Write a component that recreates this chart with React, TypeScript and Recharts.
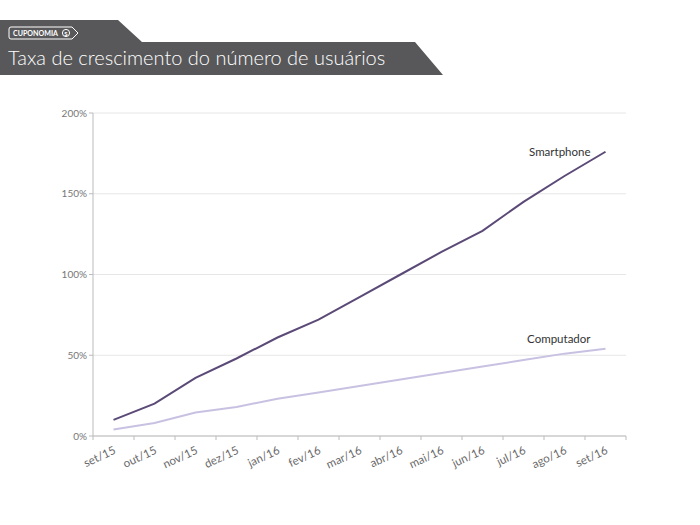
import { LineChart, Line, XAxis, YAxis, CartesianGrid } from 'recharts'

const months = ['set/15', 'out/15', 'nov/15', 'dez/15', 'jan/16', 'fev/16', 'mar/16', 'abr/16', 'mai/16', 'jun/16', 'jul/16', 'ago/16', 'set/16']
const smartphone = [10, 20, 36, 48, 61, 72, 86, 100, 114, 127, 145, 161, 176]
const computador = [4, 8, 14.5, 18, 23, 27, 31, 35, 39, 43, 47, 51, 54]
const yTicks = [0, 50, 100, 150, 200]

const data = months.map((m, i) => ({ month: m, smartphone: smartphone[i], computador: computador[i] }))

const FONT = 'Lato, "Open Sans", sans-serif'
const BAND = 41

function MonthTick(props: any) {
  const { x, y, payload, index } = props
  const last = index === months.length - 1
  return (
    <g>
      <line x1={x - BAND / 2} y1={y - 8} x2={x - BAND / 2} y2={y - 4} stroke="#bbb" />
      {last && <line x1={x + BAND / 2} y1={y - 8} x2={x + BAND / 2} y2={y - 4} stroke="#bbb" />}
      <text
        x={x + 3}
        y={y + 9}
        textAnchor="end"
        fill="#6a6a6a"
        fontSize={11.5}
        fontFamily={FONT}
        transform={`rotate(-25, ${x + 3}, ${y + 9})`}
      >
        {payload.value}
      </text>
    </g>
  )
}

function PercentTick(props: any) {
  const { x, y, payload } = props
  return (
    <text x={x} y={y + 3.5} textAnchor="end" fill="#777" fontSize={10} fontFamily={FONT}>
      {`${payload.value}%`}
    </text>
  )
}

function endLabel(name: string, dy: number) {
  return (props: any) => {
    const { x, y, index } = props
    if (index !== months.length - 1) return null
    return (
      <text x={x - 15} y={y + dy} textAnchor="end" fill="#333" fontSize={11.5} fontFamily={FONT}>
        {name}
      </text>
    )
  }
}

export default function App() {
  return (
    <div style={{ position: 'absolute', left: 0, top: 0, width: 700, height: 525, background: '#fff' }}>
      <svg width={700} height={80} style={{ position: 'absolute', left: 0, top: 0 }}>
        <polygon points="0,20 118,20 142,42 415,42 443,75 0,75" fill="#58585a" />
        <path d="M11,27 H72 L78,33 L72,39 H11 Q9,39 9,37 V29 Q9,27 11,27 Z" fill="none" stroke="#fff" strokeWidth={1} />
        <text x={13} y={36} fill="#fff" fontSize={7} fontWeight={700} fontFamily={FONT} textLength={45} lengthAdjust="spacingAndGlyphs">
          CUPONOMIA
        </text>
        <circle cx={66} cy={33} r={3.6} fill="none" stroke="#fff" strokeWidth={1} />
        <text x={66} y={35.5} textAnchor="middle" fill="#fff" fontSize={6} fontWeight={700} fontFamily={FONT}>
          S
        </text>
        <text x={8} y={65} fill="#fff" fontSize={20} fontWeight={300} fontFamily={FONT}>
          Taxa de crescimento do número de usuários
        </text>
      </svg>
      <LineChart
        width={700}
        height={525}
        data={data}
        margin={{ top: 113, right: 74, left: 43, bottom: 49 }}
      >
        <CartesianGrid vertical={false} stroke="#e6e6e6" />
        <XAxis
          dataKey="month"
          scale="band"
          stroke="#bbb"
          tickLine={false}
          interval={0}
          height={40}
          tick={<MonthTick />}
        />
        <YAxis
          domain={[0, 200]}
          ticks={yTicks}
          width={50}
          stroke="#bbb"
          tickSize={4}
          tick={<PercentTick />}
        />
        <Line
          dataKey="smartphone"
          stroke="#5b4a77"
          strokeWidth={2}
          dot={false}
          isAnimationActive={false}
          label={endLabel('Smartphone', 4)}
        />
        <Line
          dataKey="computador"
          stroke="#c9c1e2"
          strokeWidth={2}
          dot={false}
          isAnimationActive={false}
          label={endLabel('Computador', -6)}
        />
      </LineChart>
    </div>
  )
}
